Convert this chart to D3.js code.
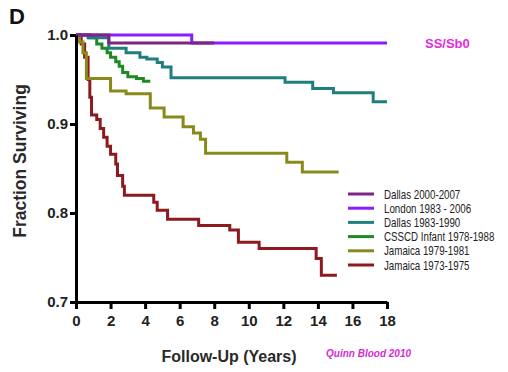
<!DOCTYPE html>
<html>
<head>
  <script src="https://cdn.jsdelivr.net/npm/d3@7"></script>
  <style>body { margin: 0; background: #fff }</style>
</head>
<body>
  <div id="chart"></div>
  <script>
    // step curves: times (years) and fraction surviving after each step
    const londonT = [0, 6.7, 18];
    const londonV = [1.0, 0.991, 0.991];
    const dallas07T = [0, 1.9, 8.0];
    const dallas07V = [1.0, 0.991, 0.991];
    const dallas90T = [0, 0.7, 1.9, 2.9, 3.7, 4.1, 4.7, 5.0, 5.5, 12.1, 13.7, 14.9, 17.2, 18];
    const dallas90V = [1.0, 0.997, 0.985, 0.98, 0.975, 0.973, 0.969, 0.964, 0.952, 0.947, 0.94, 0.935, 0.925, 0.925];
    const csscdT = [0, 0.8, 1.2, 1.5, 1.8, 2.0, 2.3, 2.5, 2.7, 3.0, 3.5, 3.9, 4.3];
    const csscdV = [1.0, 0.997, 0.99, 0.985, 0.98, 0.975, 0.97, 0.965, 0.958, 0.953, 0.951, 0.948, 0.948];
    const jam79T = [0, 0.2, 0.4, 0.6, 2.0, 2.9, 4.3, 5.1, 6.2, 6.8, 7.2, 7.5, 12.2, 13.1, 15.2];
    const jam79V = [1.0, 0.992, 0.98, 0.951, 0.937, 0.934, 0.918, 0.908, 0.897, 0.89, 0.883, 0.867, 0.857, 0.846, 0.846];
    const jam73T = [0, 0.3, 0.5, 0.7, 0.8, 0.9, 1.2, 1.4, 1.6, 1.8, 2.0, 2.3, 2.4, 2.7, 2.8, 4.5, 4.7, 5.3, 7.1, 8.9, 9.4, 10.6, 13.9, 14.2, 15.1];
    const jam73V = [1.0, 0.99, 0.975, 0.95, 0.93, 0.91, 0.905, 0.895, 0.885, 0.875, 0.866, 0.855, 0.842, 0.83, 0.82, 0.812, 0.803, 0.793, 0.786, 0.781, 0.767, 0.76, 0.749, 0.73, 0.73];

    const names = ['Dallas 2000-2007', 'London 1983 - 2006', 'Dallas 1983-1990', 'CSSCD Infant 1978-1988', 'Jamaica 1979-1981', 'Jamaica 1973-1975'];
    const colors = ['#7d2585', '#8a1cff', '#1f7f7c', '#1e8a26', '#8a8a1c', '#8c1a1e'];
    const times = [dallas07T, londonT, dallas90T, csscdT, jam79T, jam73T];
    const vals = [dallas07V, londonV, dallas90V, csscdV, jam79V, jam73V];
    const xTicks = [0, 2, 4, 6, 8, 10, 12, 14, 16, 18];
    const yTicks = [0.7, 0.8, 0.9, 1.0];

    const width = 508, height = 372;
    const svg = d3.select('#chart').append('svg')
      .attr('width', width).attr('height', height);

    const x = d3.scaleLinear().domain([0, 18]).range([76, 387]);
    const y = d3.scaleLinear().domain([0.7, 1.0]).range([302, 35]);

    const line = d3.line()
      .x(d => x(d[0])).y(d => y(d[1]))
      .curve(d3.curveStepAfter);

    // bottom curves first, Dallas 2000-2007 on top
    const order = [5, 4, 3, 2, 1, 0];
    order.forEach(i => {
      const pts = times[i].map((t, k) => [t, vals[i][k]]);
      svg.append('path')
        .attr('d', line(pts))
        .attr('fill', 'none')
        .attr('stroke', colors[i])
        .attr('stroke-width', 3);
    });

    const font = 'Liberation Sans, Arial, sans-serif';

    const xAxis = svg.append('g')
      .attr('transform', `translate(0,${y(0.7)})`)
      .call(d3.axisBottom(x).tickValues(xTicks).tickFormat(d3.format('d')).tickSize(7).tickSizeOuter(0));
    const yAxis = svg.append('g')
      .attr('transform', `translate(${x(0)},0)`)
      .call(d3.axisLeft(y).tickValues(yTicks).tickFormat(d3.format('.1f')).tickSize(6).tickSizeOuter(0));

    [xAxis, yAxis].forEach(g => {
      g.select('.domain').attr('stroke', '#000').attr('stroke-width', 3);
      g.selectAll('.tick line').attr('stroke', '#000').attr('stroke-width', 3);
      g.selectAll('.tick text')
        .attr('fill', '#222')
        .style('font-family', font)
        .style('font-weight', 'bold')
        .style('font-size', '15px');
    });
    xAxis.selectAll('.tick text').attr('dy', '0.9em');
    yAxis.selectAll('.tick text').attr('x', -8);

    svg.append('text')
      .attr('transform', 'translate(26,161) rotate(-90)')
      .attr('text-anchor', 'middle')
      .style('font-family', font)
      .style('font-weight', 'bold').style('font-size', '17.5px')
      .attr('fill', '#2a2a2a')
      .text('Fraction Surviving');

    svg.append('text')
      .attr('x', 229).attr('y', 362)
      .attr('text-anchor', 'middle')
      .style('font-family', font)
      .style('font-weight', 'bold').style('font-size', '16px')
      .attr('fill', '#2a2a2a')
      .text('Follow-Up (Years)');

    svg.append('text')
      .attr('x', 9).attr('y', 24)
      .style('font-family', font)
      .style('font-weight', 'bold').style('font-size', '22px')
      .attr('fill', '#111')
      .text('D');

    svg.append('text')
      .attr('x', 425).attr('y', 48)
      .style('font-family', font)
      .style('font-weight', 'bold').style('font-size', '13px')
      .attr('fill', '#e22be0')
      .text('SS/Sb0');

    svg.append('text')
      .attr('x', 326).attr('y', 357)
      .style('font-family', font)
      .style('font-weight', 'bold').style('font-style', 'italic').style('font-size', '10px')
      .attr('fill', '#d42cd2')
      .text('Quinn Blood 2010');

    // legend; the original uses a condensed face, so squeeze the text horizontally
    const legend = svg.append('g');
    names.forEach((n, i) => {
      const ly = 194 + i * 14.2;
      legend.append('line')
        .attr('x1', 348).attr('x2', 374)
        .attr('y1', ly).attr('y2', ly)
        .attr('stroke', colors[i]).attr('stroke-width', 3);
      legend.append('text')
        .attr('transform', `translate(384,${ly + 4.5}) scale(0.78,1)`)
        .style('font-family', font)
        .style('font-size', '12.5px')
        .attr('fill', '#222')
        .text(n);
    });
  </script>
</body>
</html>
